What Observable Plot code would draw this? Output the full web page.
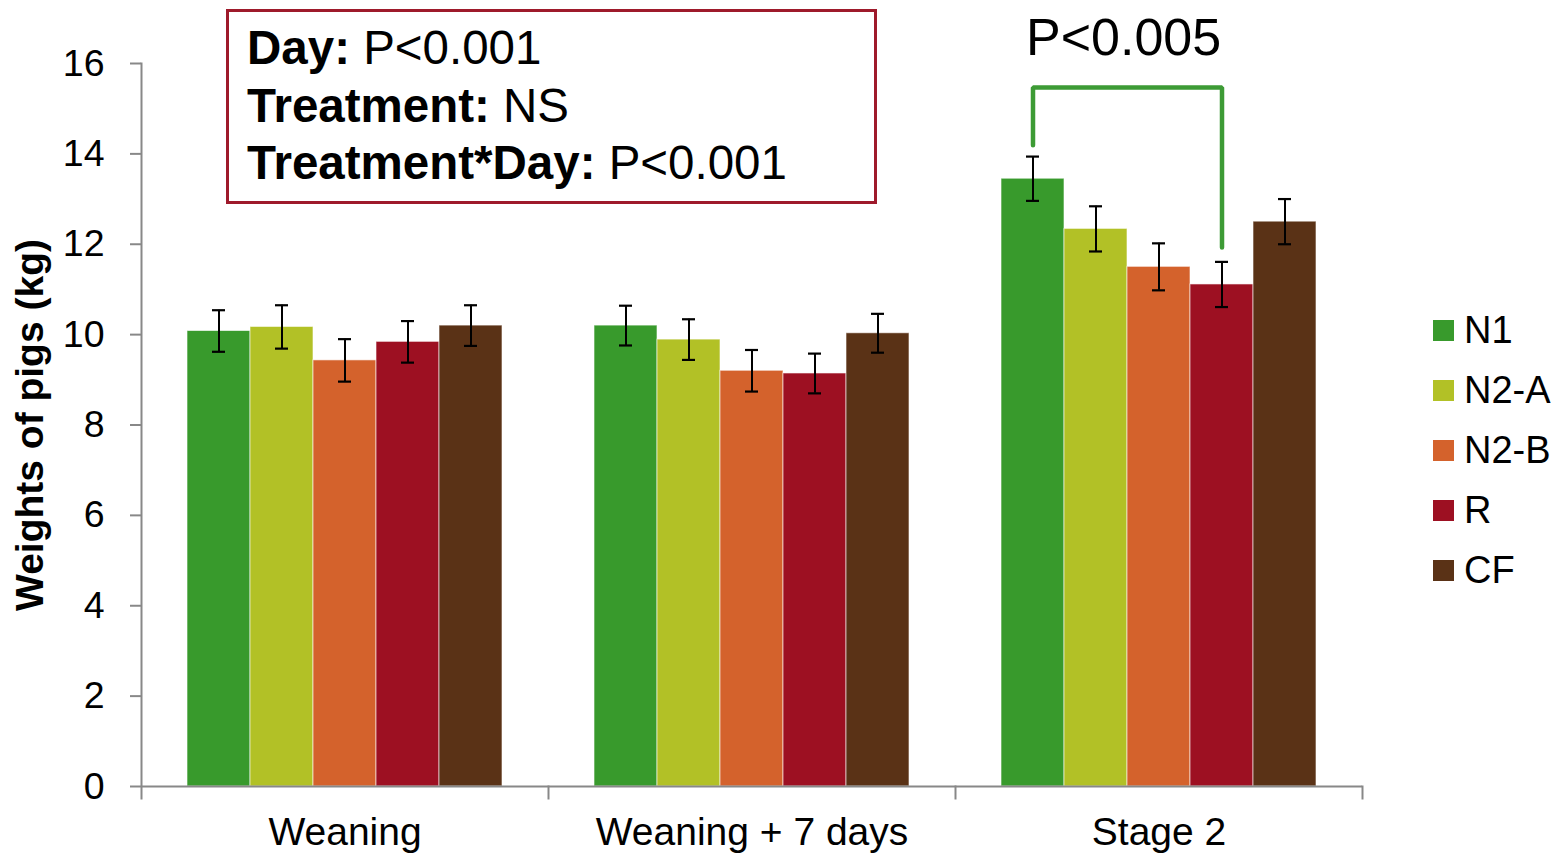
<!DOCTYPE html>
<html>
<head>
<meta charset="utf-8">
<script src="https://cdn.jsdelivr.net/npm/d3@7"></script>
<script src="https://cdn.jsdelivr.net/npm/@observablehq/plot@0.6"></script>
<style>
  html, body { margin: 0; padding: 0; background: #fff; }
  #wrap { position: relative; width: 1562px; height: 855px; overflow: hidden; font-family: "Liberation Sans", Arial, sans-serif; color: #000; }
  #chart { position: absolute; left: 0; top: 0; }
  #box { position: absolute; left: 226px; top: 9px; width: 645px; height: 189px; border: 3px solid #9e1a2b; box-sizing: content-box; }
  #box .ln { position: absolute; left: 18px; font-size: 47.5px; line-height: 47.5px; white-space: nowrap; }
  #legend { position: absolute; left: 1433px; top: 300px; }
  .item { display: flex; align-items: center; height: 60px; font-size: 38px; }
  .sw { width: 21px; height: 21px; margin-right: 10px; }
</style>
</head>
<body>
<div id="wrap">
  <div id="chart"></div>
  <div id="box"></div>
  <div id="legend"></div>
</div>
<script>
// ---- Data ----
const groups = ["Weaning", "Weaning + 7 days", "Stage 2"];
const treatments = ["N1", "N2-A", "N2-B", "R", "CF"];
const colors = ["#389a2c", "#b2c126", "#d4622c", "#9d1022", "#5a3216"];

const weaning  = [10.08, 10.17, 9.43, 9.84, 10.20];
const weaning7 = [10.20, 9.89, 9.20, 9.14, 10.03];
const stage2   = [13.45, 12.34, 11.50, 11.11, 12.50];

const seWeaning  = [0.46, 0.48, 0.47, 0.46, 0.45];
const seWeaning7 = [0.44, 0.45, 0.46, 0.44, 0.43];
const seStage2   = [0.49, 0.50, 0.52, 0.50, 0.50];

const yTicks = [0, 2, 4, 6, 8, 10, 12, 14, 16];

// significance bracket (Stage 2, N1 vs R)
const bracketX = ["N1", "N1", "R", "R"];
const bracketY = [14.19, 15.47, 15.47, 11.93];
const sigLabel = "P<0.005";
const sigY = 16.56;

const yLabel = "Weights of pigs (kg)";
const statsLines = [
  ["Day:", " P<0.001"],
  ["Treatment:", " NS"],
  ["Treatment*Day:", " P<0.001"]
];

// ---- Build table ----
const values = [weaning, weaning7, stage2];
const ses = [seWeaning, seWeaning7, seStage2];
const data = [];
groups.forEach((g, gi) => {
  treatments.forEach((t, ti) => {
    data.push({group: g, trt: t, value: values[gi][ti], lo: values[gi][ti] - ses[gi][ti], hi: values[gi][ti] + ses[gi][ti]});
  });
});
const bracket = bracketX.map((x, i) => ({group: "Stage 2", trt: x, v: bracketY[i]}));

const font = "'Liberation Sans', Arial, sans-serif";

const chart = Plot.plot({
  width: 1562,
  height: 855,
  marginLeft: 140,
  marginRight: 199,
  marginTop: 63,
  marginBottom: 69,
  style: {fontFamily: font, color: "#000", background: "transparent", overflow: "visible"},
  fx: {domain: groups, paddingInner: 0, paddingOuter: 0, axis: null},
  x: {domain: treatments, paddingInner: 0, paddingOuter: 0.73, axis: null},
  y: {domain: [0, 16], axis: null},
  color: {domain: treatments, range: colors},
  marks: [
    Plot.barY(data, {fx: "group", x: "trt", y: "value", fill: "trt", stroke: "#fff", strokeOpacity: 0.6, strokeWidth: 1}),
    Plot.ruleX(data, {fx: "group", x: "trt", y1: "lo", y2: "hi", stroke: "#000", strokeWidth: 2}),
    Plot.tickY(data, {fx: "group", x: "trt", y: "lo", stroke: "#000", strokeWidth: 2.2, insetLeft: 25, insetRight: 25}),
    Plot.tickY(data, {fx: "group", x: "trt", y: "hi", stroke: "#000", strokeWidth: 2.2, insetLeft: 25, insetRight: 25}),
    Plot.ruleY([0], {stroke: "#888", strokeWidth: 2}),
    Plot.frame({anchor: "left", facetAnchor: "left", stroke: "#888", strokeWidth: 2, insetBottom: -12}),
    Plot.frame({anchor: "right", stroke: "#888", strokeWidth: 2, insetTop: 723, insetBottom: -12}),
    Plot.axisY({ticks: yTicks, tickSize: 11, tickPadding: 26, stroke: "#888", strokeWidth: 2, fill: "#000", fontSize: 37.5, label: null, tickFormat: d => String(d)}),
    Plot.axisFx({anchor: "bottom", tickSize: 0, tickPadding: 31, fontSize: 39, label: null}),
    Plot.text([yLabel], {frameAnchor: "left", facetAnchor: "left", textAnchor: "middle", rotate: -90, dx: -111, fontSize: 39, fontWeight: "bold", fill: "#000"}),
    Plot.line(bracket, {fx: "group", x: "trt", y: "v", stroke: "#3d9b35", strokeWidth: 4.5, strokeLinejoin: "miter"}),
    Plot.text([{group: "Stage 2", trt: "N1", v: sigY}], {fx: "group", x: "trt", y: "v", text: () => sigLabel, textAnchor: "start", dx: -7, fontSize: 52, fill: "#000"})
  ]
});
document.getElementById("chart").appendChild(chart);

// stats box
const box = document.getElementById("box");
statsLines.forEach((pair, i) => {
  const d = document.createElement("div");
  d.className = "ln";
  d.style.top = (12 + i * 57.5) + "px";
  const b = document.createElement("b");
  b.textContent = pair[0];
  d.appendChild(b);
  d.appendChild(document.createTextNode(pair[1]));
  box.appendChild(d);
});

// legend
const legend = document.getElementById("legend");
treatments.forEach((t, i) => {
  const it = document.createElement("div");
  it.className = "item";
  const sw = document.createElement("div");
  sw.className = "sw";
  sw.style.background = colors[i];
  const lb = document.createElement("span");
  lb.textContent = t;
  it.appendChild(sw);
  it.appendChild(lb);
  legend.appendChild(it);
});
</script>
</body>
</html>
